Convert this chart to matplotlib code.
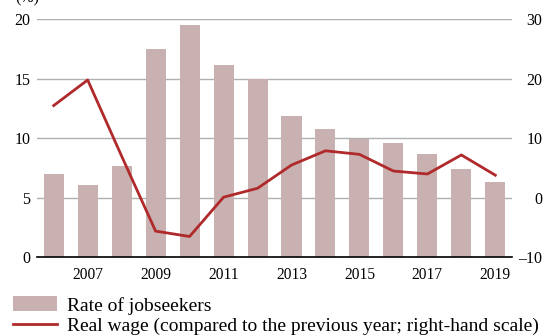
import matplotlib.pyplot as plt
from matplotlib.patches import Patch
from matplotlib.lines import Line2D

years = list(range(2006, 2020))
jobseekers = [7.0, 6.1, 7.7, 17.5, 19.5, 16.2, 15.0, 11.9, 10.8, 9.9, 9.6, 8.7, 7.4, 6.3]
real_wage = [15.5, 19.8, 7.0, -5.6, -6.5, 0.1, 1.6, 5.5, 7.9, 7.3, 4.5, 4.0, 7.2, 3.8]
year_labels = ['2007', '2009', '2011', '2013', '2015', '2017', '2019']

bar_color = '#c9b1b1'
line_color = '#b0292b'

plt.rcParams['font.family'] = ['Liberation Serif', 'DejaVu Serif']
plt.rcParams['font.size'] = 11.5

fig = plt.figure(figsize=(5.43, 3.36), dpi=100)
ax = fig.add_axes([0.0676, 0.2342, 0.8759, 0.7084])

ax.bar(years, jobseekers, width=0.59, color=bar_color, zorder=2)
ax.set_xlim(2005.5, 2019.5)
ax.set_ylim(0, 20)
ax.set_yticks([0, 5, 10, 15, 20])
ax.set_xticks([int(y) for y in year_labels])
ax.set_xticklabels(year_labels, fontsize=11.2)
ax.grid(axis='y', color='#b0b0b0', linewidth=1.0, zorder=0)
ax.tick_params(axis='y', length=0, pad=4.5)
ax.tick_params(axis='x', length=0, pad=7)
for s in ['top', 'right', 'left']:
    ax.spines[s].set_visible(False)
ax.spines['bottom'].set_color('black')
ax.spines['bottom'].set_linewidth(1.2)
ax.spines['bottom'].set_zorder(4)

# right-hand scale for the wage line, labels flush right at the edge
ax2 = ax.twinx()
ax2.plot(years, real_wage, color=line_color, linewidth=2.0, zorder=3)
ax2.set_ylim(-10, 30)
ax2.set_yticks([-10, 0, 10, 20, 30])
ax2.set_yticklabels(['\u201310', '0', '10', '20', '30'])
ax2.tick_params(axis='y', length=0, pad=21.5)
for lbl in ax2.get_yticklabels():
    lbl.set_horizontalalignment('right')
for s in ax2.spines.values():
    s.set_visible(False)

fig.text(0.028, 1.004, '(%)', ha='left', va='center')

handles = [Patch(facecolor=bar_color, edgecolor='none'),
           Line2D([], [], color=line_color, linewidth=2.0)]
labels = ['Rate of jobseekers',
          'Real wage (compared to the previous year; right-hand scale)']
fig.legend(handles, labels, loc='upper left', bbox_to_anchor=(0.024, 0.118),
           frameon=False, fontsize=14, handlelength=2.25, handleheight=0.82,
           handletextpad=0.52, labelspacing=0.1, borderpad=0, borderaxespad=0)

fig.savefig('out.png', dpi=100)
